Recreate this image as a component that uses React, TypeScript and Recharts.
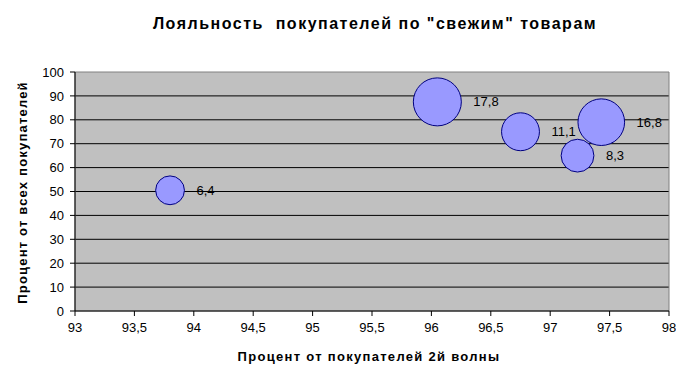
import React from 'react';
import { ScatterChart, Scatter, XAxis, YAxis, ZAxis, CartesianGrid, LabelList, ReferenceArea } from 'recharts';

const xValues = [93.8, 96.05, 96.75, 97.23, 97.43];
const yValues = [50.5, 87.5, 75, 65, 79];
const bubbleSizes = [6.4, 17.8, 11.1, 8.3, 16.8];
const xTicks = [93, 93.5, 94, 94.5, 95, 95.5, 96, 96.5, 97, 97.5, 98];
const yTicks = [0, 10, 20, 30, 40, 50, 60, 70, 80, 90, 100];
const gridValues = [10, 20, 30, 40, 50, 60, 70, 80, 90];

const title = 'Лояльность  покупателей по "свежим" товарам';
const xTitle = 'Процент от покупателей 2й волны';
const yTitle = 'Процент от всех покупателей';

const data = xValues.map((x, i) => ({ x, y: yValues[i], z: bubbleSizes[i] }));
const maxSize = Math.max(...bubbleSizes);

const fmt = (v: any) => String(v).replace('.', ',');
const font = '"Liberation Sans", Arial, sans-serif';

export default function App() {
  return (
    <div style={{ position: 'absolute', left: 0, top: 0, width: 676, height: 386, background: '#fff', fontFamily: font }}>
      <ScatterChart width={676} height={386} margin={{ top: 72, right: 7, bottom: 45, left: 0 }}>
        <CartesianGrid horizontal vertical={false} horizontalValues={gridValues} stroke="#000" strokeDasharray="" fill="#C0C0C0" fillOpacity={1} />
        <ReferenceArea x1={93} x2={98} y1={0} y2={100} fill="none" stroke="#808080" strokeWidth={1} ifOverflow="visible" />
        <XAxis
          type="number"
          dataKey="x"
          domain={[93, 98]}
          ticks={xTicks}
          tickFormatter={fmt}
          height={30}
          stroke="#000"
          tickSize={5}
          tickMargin={7}
          tick={{ fill: '#000', fontSize: 13, fontFamily: font }}
          allowDataOverflow
        />
        <YAxis
          type="number"
          dataKey="y"
          domain={[0, 100]}
          ticks={yTicks}
          width={75}
          stroke="#000"
          tickSize={5}
          tickMargin={6}
          tick={{ fill: '#000', fontSize: 13, fontFamily: font }}
          allowDataOverflow
        />
        <ZAxis type="number" dataKey="z" domain={[0, maxSize]} range={[0, Math.PI * 24 * 24]} />
        <Scatter data={data} fill="#9999FF" stroke="#000080" strokeWidth={1} isAnimationActive={false}>
          <LabelList dataKey="z" position="right" offset={12} formatter={fmt} fill="#000" fontSize={13} fontFamily={font} />
        </Scatter>
      </ScatterChart>
      <div style={{ position: 'absolute', left: 0, width: 750, top: 15, textAlign: 'center', fontSize: 16, letterSpacing: 1.5, fontWeight: 'bold', whiteSpace: 'pre', color: '#000' }}>{title}</div>
      <div style={{ position: 'absolute', left: 69, width: 600, top: 349, textAlign: 'center', fontSize: 13, letterSpacing: 1.3, fontWeight: 'bold', color: '#000' }}>{xTitle}</div>
      <div style={{ position: 'absolute', left: 22, top: 194, width: 0, height: 0 }}>
        <div style={{ position: 'absolute', left: -150, top: -9, width: 300, textAlign: 'center', fontSize: 13, letterSpacing: 1.2, fontWeight: 'bold', color: '#000', transform: 'rotate(-90deg)', whiteSpace: 'nowrap' }}>{yTitle}</div>
      </div>
    </div>
  );
}
